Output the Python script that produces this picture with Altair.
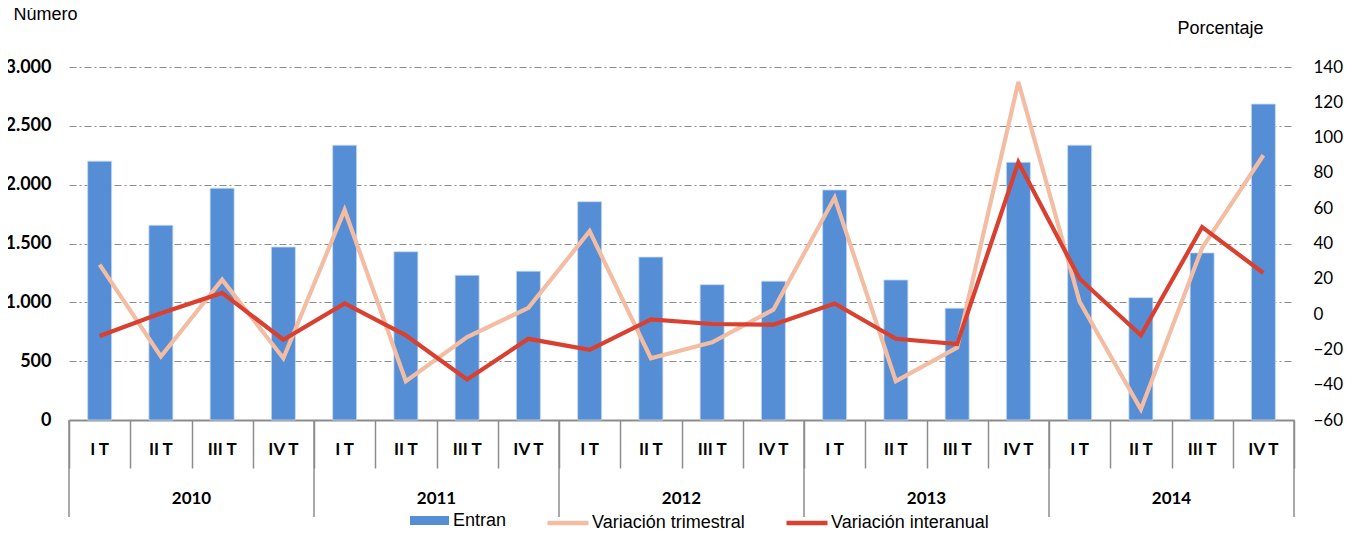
import altair as alt
import pandas as pd

years = ["2010", "2011", "2012", "2013", "2014"]
quarters = ["I T", "II T", "III T", "IV T"]
entran = [2200, 1655, 1970, 1470, 2335, 1430, 1230, 1265, 1855, 1385,
          1150, 1180, 1955, 1190, 950, 2190, 2335, 1040, 1420, 2685]
var_trim = [28, -24, 19.5, -25, 59, -38, -13, 3.5, 47, -25,
            -16, 2.5, 66, -38, -19, 131.5, 7, -54, 37.5, 90]
var_inter = [-12.4, 0.5, 12, -14.5, 6, -12, -37, -14, -20.3, -3,
             -5.6, -6, 6, -14, -17, 86, 20, -12, 49.3, 23.3]

n = len(entran)
df = pd.DataFrame({
    "idx": list(range(n)),
    "center": [i + 0.5 for i in range(n)],
    "q": [quarters[i % 4] for i in range(n)],
    "year": [years[i // 4] for i in range(n)],
    "Entran": entran,
    "Variación trimestral": var_trim,
    "Variación interanual": var_inter,
    "serie": ["Entran"] * n,
})
ydf = pd.DataFrame({"year": years, "mid": [i * 4 + 2 for i in range(len(years))]})
bdf = pd.DataFrame({"b": [i * 4 for i in range(len(years) + 1)]})

W, H = 1225, 353
GRAY = "#8c8c8c"
xscale = alt.Scale(domain=[0, n], nice=False, zero=False, padding=0)

base = alt.Chart(df)

bars = base.mark_bar(size=24, stroke="#c6d9f1", strokeWidth=0.8).encode(
    x=alt.X("center:Q", scale=xscale,
            axis=alt.Axis(values=list(range(n + 1)), labels=False, title=None,
                          grid=False, tickSize=48, tickColor=GRAY, tickWidth=1.5,
                          domainColor=GRAY, domainWidth=2)),
    y=alt.Y("Entran:Q", scale=alt.Scale(domain=[0, 3000], nice=False),
            axis=alt.Axis(values=list(range(0, 3001, 500)),
                          labelExpr="replace(format(datum.value, ','), ',', '.')",
                          labelFont="Lato", labelFontWeight="bold", labelFontSize=18,
                          labelColor="#000", labelPadding=18, ticks=False, domain=False,
                          grid=True, gridColor=GRAY, gridDash=[7, 3, 2, 3], gridWidth=1,
                          title="Número", titleAngle=0, titleX=-56, titleY=-48,
                          titleAlign="left", titleBaseline="alphabetic",
                          titleFont="Liberation Sans", titleFontSize=18,
                          titleFontWeight="normal", titleColor="#000")),
    fill=alt.Fill("serie:N", scale=alt.Scale(domain=["Entran"], range=["#558ED5"]),
                  legend=alt.Legend(title=None, orient="none", legendX=341, legendY=434,
                                    symbolType="M-1,-0.23L1,-0.23L1,0.23L-1,0.23Z",
                                    symbolSize=1521, symbolStrokeWidth=0,
                                    labelFont="Liberation Sans", labelFontSize=18,
                                    labelColor="#000", labelOffset=4)),
)

lines = base.transform_fold(
    ["Variación trimestral", "Variación interanual"], as_=["key", "val"]
).mark_line(strokeWidth=4.2).encode(
    x=alt.X("center:Q", scale=xscale),
    y=alt.Y("val:Q", scale=alt.Scale(domain=[-60, 140], nice=False, zero=False),
            axis=alt.Axis(orient="right", values=list(range(-60, 141, 20)),
                          labelFont="Lato", labelFontSize=17, labelColor="#000",
                          labelPadding=19, ticks=False, domain=False, grid=False,
                          title="Porcentaje", titleAngle=0, titleX=-117, titleY=-34,
                          titleAlign="left", titleBaseline="alphabetic",
                          titleFont="Liberation Sans", titleFontSize=18,
                          titleFontWeight="normal", titleColor="#000")),
    stroke=alt.Stroke("key:N",
                      scale=alt.Scale(domain=["Variación trimestral", "Variación interanual"],
                                      range=["#F3BDA4", "#DA402F"]),
                      legend=alt.Legend(title=None, orient="none", legendX=476, legendY=433,
                                        direction="horizontal", symbolType="stroke",
                                        symbolSize=1681, symbolStrokeWidth=4.5,
                                        columnPadding=32, labelLimit=400,
                                        labelFont="Liberation Sans", labelFontSize=18,
                                        labelColor="#000", labelOffset=1)),
    order=alt.Order("idx:Q"),
)

qlabels = base.mark_text(font="Lato", fontWeight="bold", fontSize=17, color="#000",
                         baseline="middle").encode(
    x=alt.X("center:Q", scale=xscale),
    y=alt.value(H + 30),
    text="q:N",
)

ylabels = alt.Chart(ydf).mark_text(font="Lato", fontWeight="bold", fontSize=17,
                                   color="#000", baseline="middle").encode(
    x=alt.X("mid:Q", scale=xscale),
    y=alt.value(H + 79),
    text="year:N",
)

yrules = alt.Chart(bdf).mark_rule(color=GRAY, strokeWidth=1.5).encode(
    x=alt.X("b:Q", scale=xscale),
    y=alt.value(H),
    y2=alt.value(H + 97),
)

chart = alt.layer(bars, lines, qlabels, ylabels, yrules).resolve_scale(
    y="independent", fill="independent", stroke="independent"
).properties(
    width=W, height=H,
    autosize=alt.AutoSizeParams(type="none"),
    padding={"left": 61, "top": 59, "right": 50, "bottom": 108},
).configure_view(stroke=None)

chart.save("out.html", embed_options={"renderer": "svg", "actions": False})
